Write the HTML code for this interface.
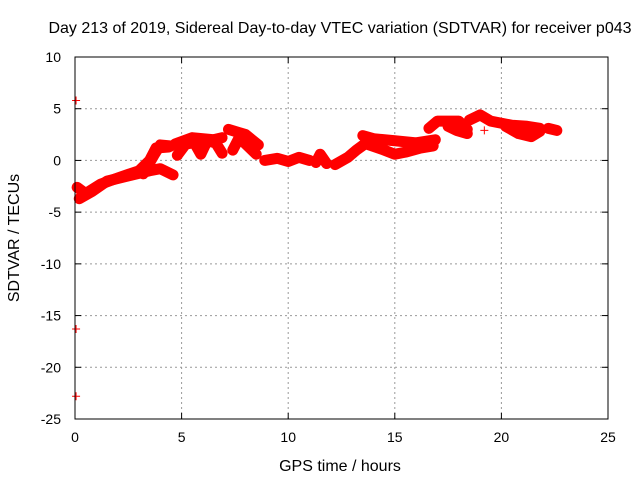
<!DOCTYPE html>
<html><head><meta charset="utf-8"><style>
body{margin:0;background:#fff}
svg{font-family:"Liberation Sans",sans-serif;font-size:14px}
.big{font-size:16px}
</style></head><body>
<svg width="640" height="480">
<text class="big" x="340" y="33" text-anchor="middle">Day 213 of 2019, Sidereal Day-to-day VTEC variation (SDTVAR) for receiver p043</text>
<g id="grid"></g>
<g id="series"></g>
<rect x="75" y="57" width="533" height="362" fill="none" stroke="#000"/>
<g id="ticks"></g>
<text class="big" x="340" y="471" text-anchor="middle">GPS time / hours</text>
<text class="big" transform="translate(19,238) rotate(-90)" text-anchor="middle">SDTVAR / TECUs</text>
</svg>
<script>
const xTicks=[0,5,10,15,20,25];
const yTicks=[10,5,0,-5,-10,-15,-20,-25];
const track1=[[0.2,-3.7],[0.8,-3],[1.5,-2],[2.5,-1.5],[3.5,-1],[4.0,-0.8],[4.6,-1.4]];
const track2=[[0.1,-2.6],[0.5,-3.2],[1.2,-2.3],[2,-1.7],[3,-1],[3.5,0],[3.8,1.2],[4.4,1.3]];
const track3=[[3.2,-1.3],[3.7,0.5],[4,1.5],[4.5,1.4]];
const track4=[[4.7,1.6],[5.5,2.2],[6.5,2.0],[6.9,2.2]];
const track5=[[4.8,0.5],[5.2,1.6],[5.6,1.7],[5.9,0.6],[6.2,1.9],[6.6,1.7],[6.9,0.7]];
const track6=[[7.2,3],[8,2.5],[8.6,1.5]];
const track7=[[7.4,1],[7.7,2.2],[8.1,1.4],[8.5,0.6]];
const track8=[[8.9,0],[9.5,0.2],[10,-0.1],[10.5,0.3],[11,0]];
const track9=[[11.3,-0.2],[11.5,0.6],[11.8,-0.3]];
const track10=[[12.2,-0.4],[12.8,0.3],[13.2,1],[13.6,1.6]];
const track11=[[13.5,2.4],[14,2.1],[15,1.9],[16,1.7],[16.9,2]];
const track12=[[13.8,1.5],[14.5,1.0],[15,0.6],[15.5,0.8],[16.2,1.2],[16.8,1.4]];
const track13=[[16.6,3.1],[17,3.8],[18,3.8],[18.4,3]];
const track14=[[17.5,3.3],[17.9,2.9],[18.4,2.6]];
const track15=[[18.5,3.9],[19,4.4],[19.5,3.8],[20.5,3.4],[21.2,3.3],[21.8,3.1]];
const track16=[[20.2,3.3],[20.8,2.6],[21.4,2.3],[21.8,2.8]];
const track17=[[22.2,3.1],[22.6,2.9]];
const outliers=[[0.05,5.8],[0.05,-16.3],[0.05,-22.8],[19.2,2.9]];
const tracks=[track1,track2,track3,track4,track5,track6,track7,track8,track9,track10,track11,track12,track13,track14,track15,track16,track17];
const X=v=>75+v*533/25, Y=v=>57+(10-v)*362/35;
const NS='http://www.w3.org/2000/svg';
const grid=document.getElementById('grid'),ticks=document.getElementById('ticks'),ser=document.getElementById('series');
function mk(tag,at,p){const e=document.createElementNS(NS,tag);for(const k in at)e.setAttribute(k,at[k]);p.appendChild(e);return e;}
xTicks.forEach(t=>{const x=X(t);
 if(t>0&&t<25){const g=mk('line',{x1:x,x2:x,y1:57,y2:419,stroke:'#999','stroke-dasharray':'2,3'},grid);
 
 }
 const l=mk('line',{x1:x,x2:x,y1:419,y2:413,stroke:'#000'},ticks);
 
 
 const l2=mk('line',{x1:x,x2:x,y1:57,y2:63,stroke:'#000'},ticks);
 
 
 const tx=mk('text',{x:x,y:442,'text-anchor':'middle'},ticks);tx.textContent=t;
 
 });
yTicks.forEach(t=>{const y=Y(t);
 if(t<10&&t>-25){const g=mk('line',{x1:75,x2:608,y1:y,y2:y,stroke:'#999','stroke-dasharray':'2,3'},grid);
 
 }
 const l=mk('line',{x1:75,x2:81,y1:y,y2:y,stroke:'#000'},ticks);
 
 
 const l2=mk('line',{x1:602,x2:608,y1:y,y2:y,stroke:'#000'},ticks);
 
 
 const tx=mk('text',{x:61,y:y+5,'text-anchor':'end'},ticks);tx.textContent=t;
 
 });
tracks.forEach(tr=>{const p=mk('polyline',{points:tr.map(d=>X(d[0])+','+Y(d[1])).join(' '),fill:'none',stroke:'#f00','stroke-width':11,'stroke-linejoin':'round','stroke-linecap':'round'},ser);
 
 });
outliers.forEach(d=>{const x=X(d[0]),y=Y(d[1]);
 const p=mk('path',{d:`M${x-4},${y}H${x+4}M${x},${y-4}V${y+4}`,stroke:'#f00','stroke-width':1},ser);
 
 });
</script>
</body></html>
